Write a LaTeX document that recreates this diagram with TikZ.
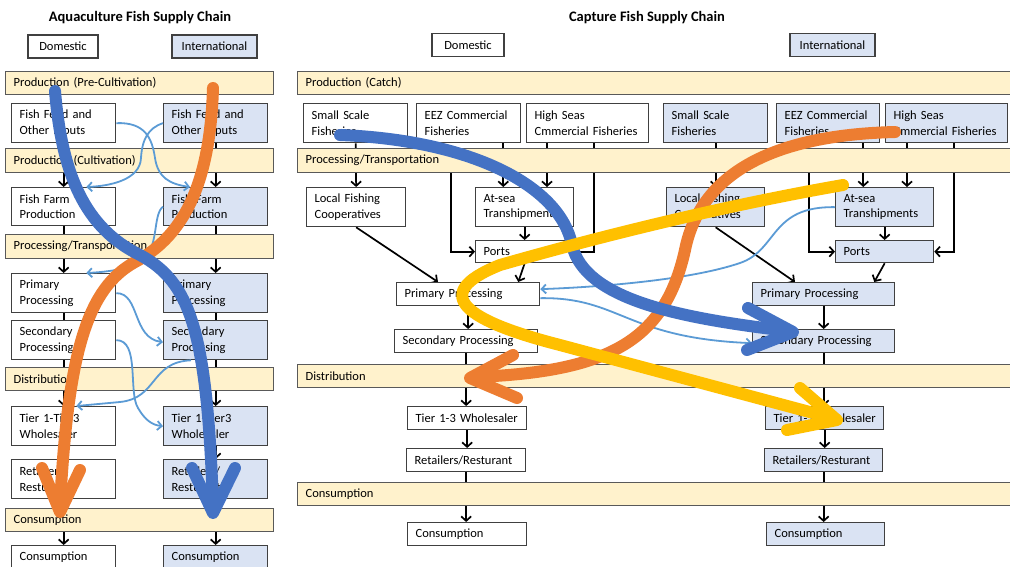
\documentclass[tikz,border=0pt]{standalone}
\usepackage{fontspec}
\setmainfont{Carlito}
\usetikzlibrary{arrows.meta,calc}

\definecolor{bandfill}{HTML}{FFF2CC}
\definecolor{bandedge}{HTML}{595959}
\definecolor{edge}{HTML}{404040}
\definecolor{intl}{HTML}{DAE3F3}
\definecolor{flow}{HTML}{5B9BD5}
\definecolor{bigblue}{HTML}{4472C4}
\definecolor{bigorange}{HTML}{ED7D31}
\definecolor{bigyellow}{HTML}{FFC000}

\pgfdeclarelayer{bg}
\pgfdeclarelayer{fg}
\pgfsetlayers{bg,main,fg}

% stage box: style, name, x, y, width, height, text
\newcommand\stagebox[7]{%
  \pgfmathsetmacro\stw{#5-16}%
  \node[#1, anchor=north west, minimum width=#5pt, minimum height=#6pt,
        text width=\stw pt] (#2) at (#3,#4) {#7};}

\tikzset{
  txt/.style={font=\fontsize{12.5}{15.5}\selectfont},
  base/.style={txt, inner xsep=8pt, inner ysep=0pt, align=left, line width=1.3pt},
  dombox/.style={base, draw=edge, fill=white},
  intbox/.style={base, draw=edge, fill=intl},
  band/.style={base, draw=bandedge, fill=bandfill},
  tag/.style={txt, draw=edge, line width=1.3pt, inner sep=0pt, minimum height=23pt},
  title/.style={font=\fontsize{14.5}{17}\selectfont\bfseries, inner sep=0pt},
  link/.style={draw=black, line width=1.7pt, -{Straight Barb[length=4.5pt,width=10pt]}},
  plain/.style={draw=black, line width=1.7pt},
  crossflow/.style={draw=flow, line width=1.8pt, -{Straight Barb[length=4.5pt,width=9pt]}},
  bigflow/.style={line width=12pt, line cap=round, line join=round},
}

\begin{document}
\begin{tikzpicture}[x=1pt,y=-1pt]
\useasboundingbox (0,0) rectangle (1010,566);

% ---------- titles and headers ----------
\node[title] (aqtitle) at (140,18) {Aquaculture Fish Supply Chain};
\node[title] (cftitle) at (647,18) {Capture Fish Supply Chain};
\node[tag, fill=white, minimum width=70pt] (aqdom) at (63,46.5) {Domestic};
\node[tag, fill=intl, minimum width=85pt] (aqint) at (214.5,46.5) {International};
\node[tag, fill=white, minimum width=72pt] (cfdom) at (468,45) {Domestic};
\node[tag, fill=intl, minimum width=85pt] (cfint) at (832.5,45) {International};

% ---------- stage bands ----------
\stagebox{band}{lb1}{5}{71}{268}{23}{Production (Pre-Cultivation)}
\stagebox{band}{lb2}{5}{148}{268}{24}{Production (Cultivation)}
\stagebox{band}{lb3}{5}{234}{268}{24}{Processing/Transportation}
\stagebox{band}{lb4}{5}{367}{268}{23}{Distribution}
\stagebox{band}{lb5}{5}{508}{268}{23}{Consumption}

\stagebox{band}{rb1}{297}{71}{720}{23}{Production (Catch)}
\stagebox{band}{rb2}{297}{148}{720}{24}{Processing/Transportation}
\stagebox{band}{rb3}{297}{364}{720}{23}{Distribution}
\stagebox{band}{rb4}{297}{482}{720}{23}{Consumption}

% ---------- aquaculture boxes ----------
\stagebox{dombox}{lfeed}{11}{103}{104}{39}{Fish Feed and\\Other Inputs}
\stagebox{dombox}{lfarm}{11}{187}{104}{38}{Fish Farm\\Production}
\stagebox{dombox}{lprim}{11}{273}{104}{39}{Primary\\Processing}
\stagebox{dombox}{lsec}{11}{320}{104}{39}{Secondary\\Processing}
\stagebox{dombox}{ltier}{11}{406}{104}{39}{Tier 1-Tier3\\Wholesaler}
\stagebox{dombox}{lret}{11}{459}{104}{39}{Retailers/\\Resturant}
\stagebox{dombox}{lcons}{11}{545}{104}{24}{Consumption}

\stagebox{intbox}{rfeed}{163}{103}{104}{39}{Fish Feed and\\Other Inputs}
\stagebox{intbox}{rfarm}{163}{187}{104}{38}{Fish Farm\\Production}
\stagebox{intbox}{rprim}{163}{273}{104}{39}{Primary\\Processing}
\stagebox{intbox}{rsec}{163}{320}{104}{39}{Secondary\\Processing}
\stagebox{intbox}{rtier}{163}{406}{104}{39}{Tier 1-Tier3\\Wholesaler}
\stagebox{intbox}{rret}{163}{459}{104}{39}{Retailers/\\Resturant}
\stagebox{intbox}{rcons}{163}{545}{104}{24}{Consumption}

% ---------- capture boxes, domestic ----------
\stagebox{dombox}{dss}{303}{103}{104}{39}{Small Scale\\Fisheries}
\stagebox{dombox}{deez}{416}{103}{104}{39}{EEZ Commercial\\Fisheries}
\stagebox{dombox}{dhs}{526}{103}{122}{39}{High Seas\\Cmmercial Fisheries}
\stagebox{dombox}{dlfc}{306}{187}{99}{39}{Local Fishing\\Cooperatives}
\stagebox{dombox}{dsea}{475}{187}{98}{39}{At-sea\\Transhipments}
\stagebox{dombox}{dport}{475}{240}{98}{22}{Ports}
\stagebox{dombox}{dprim}{396}{282}{143}{23}{Primary Processing}
\stagebox{dombox}{dsec}{394}{329}{143}{23}{Secondary Processing}
\stagebox{dombox}{dtier}{407}{406}{119}{23}{\mbox{Tier 1-3 Wholesaler}}
\stagebox{dombox}{dret}{406}{448}{119}{23}{\mbox{Retailers/Resturant}}
\stagebox{dombox}{dcons}{407}{522}{119}{23}{Consumption}

% ---------- capture boxes, international ----------
\stagebox{intbox}{iss}{663}{103}{104}{39}{Small Scale\\Fisheries}
\stagebox{intbox}{ieez}{776}{103}{103}{39}{EEZ Commercial\\Fisheries}
\stagebox{intbox}{ihs}{885}{103}{122}{39}{High Seas\\Cmmercial Fisheries}
\stagebox{intbox}{ilfc}{666}{187}{98}{39}{Local Fishing\\Cooperatives}
\stagebox{intbox}{isea}{835}{187}{98}{39}{At-sea\\Transhipments}
\stagebox{intbox}{iport}{835}{240}{98}{22}{Ports}
\stagebox{intbox}{iprim}{752}{282}{142}{23}{Primary Processing}
\stagebox{intbox}{isec}{752}{329}{142}{23}{Secondary Processing}
\stagebox{intbox}{itier}{765}{406}{118}{23}{\mbox{Tier 1-3 Wholesaler}}
\stagebox{intbox}{iret}{764}{448}{118}{23}{\mbox{Retailers/Resturant}}
\stagebox{intbox}{icons}{766}{522}{118}{23}{Consumption}

% ---------- chain connectors (behind the bands) ----------
\begin{pgfonlayer}{bg}
  \fill[white] (0,0) rectangle (1010,566);
  \foreach \c in {l,r}{
    \draw[link] (\c feed.south) -- (\c farm.north);
    \draw[link] (\c farm.south) -- (\c prim.north);
    \draw[plain] (\c prim.south) -- (\c sec.north);
    \draw[link] (\c sec.south) -- (\c tier.north);
    \draw[link] (\c tier.south) -- (\c ret.north);
    \draw[link] (\c ret.south) -- (\c cons.north);
  }
  % domestic capture
  \draw[link] (dss.south) -- (dlfc.north);
  \draw[link] ([xshift=-18pt]deez.south east) -- ([xshift=-18pt]deez.south east |- dsea.north);
  \draw[link] ([xshift=21pt]dhs.south west) -- ([xshift=21pt]dhs.south west |- dsea.north);
  \draw[link] ([xshift=68pt]dhs.south west) |- (dport.east);
  \draw[link] ([xshift=35pt]deez.south west |- rb2.south) |- (dport.west);
  \draw[link] (dsea.south) -- (dport.north);
  \draw[link] (dport.south) -- ([xshift=-22pt]dprim.north east);
  \draw[link] (dlfc.south) -- ([xshift=42pt]dprim.north west);
  \draw[link] (dprim.south) -- (dprim.south |- dsec.north);
  \draw[link] (dsec.south) -- (dsec.south |- dtier.north);
  \draw[link] (dtier.south) -- (dtier.south |- dret.north);
  \draw[link] (dret.south) -- (dret.south |- dcons.north);
  % international capture
  \draw[link] (iss.south) -- (iss.south |- ilfc.north);
  \draw[link] ([xshift=-17pt]ieez.south east) -- ([xshift=-17pt]ieez.south east |- isea.north);
  \draw[link] ([xshift=22pt]ihs.south west) -- ([xshift=22pt]ihs.south west |- isea.north);
  \draw[link] ([xshift=69pt]ihs.south west) |- (iport.east);
  \draw[link] ([xshift=33pt]ieez.south west |- rb2.south) |- (iport.west);
  \draw[link] (isea.south) -- (iport.north);
  \draw[link] (iport.south) -- ([xshift=-21pt]iprim.north east);
  \draw[link] (ilfc.south) -- ([xshift=43pt]iprim.north west);
  \draw[link] (iprim.south) -- (iprim.south |- isec.north);
  \draw[link] (isec.south) -- (isec.south |- itier.north);
  \draw[link] (itier.south) -- (itier.south |- iret.north);
  \draw[link] (iret.south) -- (iret.south |- icons.north);
\end{pgfonlayer}

\begin{pgfonlayer}{fg}
  % cross-border trade flows
  \draw[crossflow] (lfeed.east) .. controls (145,122) and (152,138) .. (155,158)
        .. controls (158,178) and (170,184) .. ([xshift=27pt]rfarm.north west);
  \draw[crossflow] (rfeed.west) .. controls (148,128) and (142,140) .. (141,158)
        .. controls (140,180) and (110,186) .. ([xshift=-30pt]lfarm.north east);
  \draw[crossflow] (rfarm.west) .. controls (152,215) and (160,250) .. (140,262)
        .. controls (125,270) and (105,272) .. ([xshift=-30pt]lprim.north east);
  \draw[crossflow] (lprim.east) .. controls (140,293) and (132,338) .. ([yshift=-2pt]rsec.west);
  \draw[crossflow] (lsec.east) .. controls (140,340) and (128,392) .. (138,408)
        .. controls (145,420) and (152,425) .. (rtier.west);
  \draw[crossflow] ([xshift=28pt]rsec.south west) .. controls (150,362) and (158,398) .. (120,402)
        .. controls (100,404) .. ([xshift=-40pt]ltier.north east);
  \draw[crossflow] (isea.west) .. controls (770,206) and (778,250) .. (740,263)
        .. controls (690,280) and (600,287) .. ([yshift=5pt]dprim.east);
  \draw[crossflow] ([yshift=-4pt]dprim.east) .. controls (620,297) and (625,338) .. ([yshift=-2pt]isec.west);

  % highlighted paths
  \draw[bigflow, bigorange] (213,88) .. controls (210,190) and (180,238) .. (135,262)
        .. controls (88,288) and (68,350) .. (60,506);
  \draw[bigflow, bigorange] (42,468) -- (60,512) -- (80,470);
  \draw[bigflow, bigblue] (55,91) .. controls (62,175) and (85,228) .. (140,255)
        .. controls (190,282) and (207,330) .. (213,506);
  \draw[bigflow, bigblue] (192,468) -- (213,513) -- (235,468);

  \draw[bigflow, bigorange] (895,132) .. controls (770,135) and (700,175) .. (685,250)
        .. controls (665,340) and (610,372) .. (474,377);
  \draw[bigflow, bigorange] (513,355) -- (470,378) -- (517,398);
  \draw[bigflow, bigblue] (340,135) .. controls (470,140) and (560,185) .. (572,245)
        .. controls (585,300) and (680,318) .. (788,331);
  \draw[bigflow, bigblue] (748,308) -- (793,332) -- (747,350);
  \draw[bigflow, bigyellow] (843,185) .. controls (700,210) and (570,245) .. (500,265)
        .. controls (425,295) and (470,322) .. (560,345) -- (832,418);
  \draw[bigflow, bigyellow] (800,388) -- (837,420) -- (787,430);
\end{pgfonlayer}
\end{tikzpicture}
\end{document}
